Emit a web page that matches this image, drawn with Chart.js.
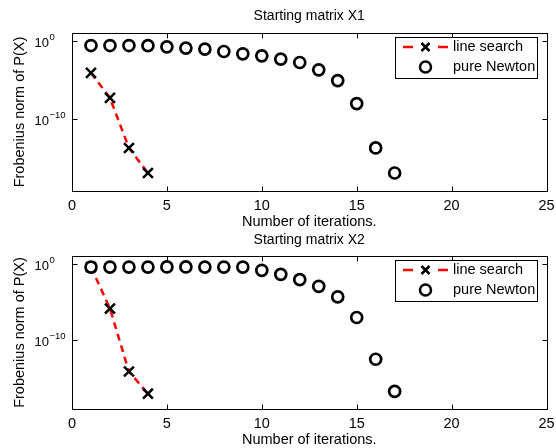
<!DOCTYPE html>
<html>
<head>
<meta charset="utf-8">
<script src="https://cdn.jsdelivr.net/npm/chart.js@4.4.1/dist/chart.umd.min.js"></script>
<style>
  html, body { margin: 0; padding: 0; background: #fff; }
  .panel { position: absolute; left: 0; width: 556px; }
  #top { top: 0; height: 240px; }
  #bottom { top: 224px; height: 224px; }
</style>
</head>
<body>
<div class="panel" id="top"><canvas id="chartX1" width="556" height="240"></canvas></div>
<div class="panel" id="bottom"><canvas id="chartX2" width="556" height="224"></canvas></div>
<script>
// iterations on the x axis
const iterations = [1, 2, 3, 4, 5, 6, 7, 8, 9, 10, 11, 12, 13, 14, 15, 16, 17];
const lineSearchIters = [1, 2, 3, 4];

// Frobenius norm of P(X), starting matrix X1
const lineSearchX1 = [7.9e-5, 5.0e-8, 2.0e-14, 1.26e-17];
const newtonX1 = [0.25, 0.25, 0.25, 0.24, 0.17, 0.117, 0.087, 0.043, 0.022, 0.012,
                  4.6e-3, 1.7e-3, 1.95e-4, 8.3e-6, 9.5e-9, 2.0e-14, 1.26e-17];

// Frobenius norm of P(X), starting matrix X2
const lineSearchX2 = [0.36, 1.35e-6, 7.9e-15, 1.0e-17];
const newtonX2 = [0.36, 0.36, 0.36, 0.36, 0.37, 0.37, 0.36, 0.36, 0.36, 0.135,
                  0.04, 8.1e-3, 1.1e-3, 4.5e-5, 9.1e-8, 3.2e-13, 2.0e-17];

// axis ticks
const xTicks = [0, 5, 10, 15, 20, 25];
const yTicks = [1, 1e-10];
const yTickExponents = ['0', '\u221210'];

const FONT = "'Liberation Sans', Arial, sans-serif";

const toPoints = (xs, ys) => ys.map((y, i) => ({ x: xs[i], y }));

/**
 * Draws a MATLAB-like box, inward ticks, labels, titles and legend
 */
const matlabAxes = {
    id: 'matlabAxes',
    afterDatasetsDraw(chart, args, opts) {
        const ctx = chart.ctx;
        const { left, right, top, bottom } = chart.chartArea;
        const xs = chart.scales.x;
        const ys = chart.scales.y;
        const L = Math.round(left) + 0.5, R = Math.round(right) + 0.5;
        const T = Math.round(top) + 0.5, B = Math.round(bottom) + 0.5;

        ctx.save();
        ctx.strokeStyle = '#000';
        ctx.lineWidth = 1;
        ctx.strokeRect(L, T, R - L, B - T);

        // inward ticks
        ctx.beginPath();
        xTicks.forEach(v => {
            const px = Math.round(xs.getPixelForValue(v)) + 0.5;
            ctx.moveTo(px, B); ctx.lineTo(px, B - 5);
            ctx.moveTo(px, T); ctx.lineTo(px, T + 5);
        });
        yTicks.forEach(v => {
            const py = Math.round(ys.getPixelForValue(v)) + 0.5;
            ctx.moveTo(L, py); ctx.lineTo(L + 5, py);
            ctx.moveTo(R, py); ctx.lineTo(R - 5, py);
        });
        ctx.stroke();

        // legend
        const lx = 395, ly = Math.round(top) + 4, lw = 142, lh = 41;
        ctx.fillStyle = '#fff';
        ctx.fillRect(lx, ly, lw, lh);
        ctx.strokeRect(lx + 0.5, ly + 0.5, lw, lh);

        const row1 = ly + 10, row2 = ly + 30;
        ctx.strokeStyle = '#ff0000';
        ctx.lineWidth = 2.5;
        ctx.beginPath();
        ctx.moveTo(403, row1); ctx.lineTo(413, row1);
        ctx.moveTo(438, row1); ctx.lineTo(448, row1);
        ctx.stroke();

        ctx.strokeStyle = '#000';
        ctx.lineWidth = 2.5;
        const cx = 425.5, d = 4;
        ctx.beginPath();
        ctx.moveTo(cx - d, row1 - d); ctx.lineTo(cx + d, row1 + d);
        ctx.moveTo(cx - d, row1 + d); ctx.lineTo(cx + d, row1 - d);
        ctx.stroke();

        ctx.beginPath();
        ctx.arc(cx, row2, 5.5, 0, Math.PI * 2);
        ctx.fillStyle = '#fff';
        ctx.fill();
        ctx.stroke();

        ctx.fillStyle = '#000';
        ctx.font = '14.5px ' + FONT;
        ctx.textAlign = 'left';
        ctx.textBaseline = 'middle';
        ctx.fillText('line search', 453, row1);
        ctx.fillText('pure Newton', 453, row2);
        ctx.restore();
    },
    afterDraw(chart, args, opts) {
        const ctx = chart.ctx;
        const { left, right, top, bottom } = chart.chartArea;
        const xs = chart.scales.x;
        const ys = chart.scales.y;
        const midX = (left + right) / 2;

        ctx.save();
        ctx.fillStyle = '#000';

        // title
        ctx.font = '14px ' + FONT;
        ctx.textAlign = 'center';
        ctx.textBaseline = 'middle';
        ctx.fillText(opts.title, midX, 16);

        // x tick labels
        ctx.font = '14.5px ' + FONT;
        xTicks.forEach(v => {
            ctx.fillText(String(v), xs.getPixelForValue(v), bottom + 14.5);
        });
        ctx.fillText('Number of iterations.', midX, bottom + 31);

        // y tick labels, 10 with superscript exponent
        ctx.textAlign = 'left';
        ctx.textBaseline = 'alphabetic';
        yTicks.forEach((v, i) => {
            const py = ys.getPixelForValue(v);
            ctx.font = '13px ' + FONT;
            ctx.fillText('10', 34.5, py + 6);
            const w = ctx.measureText('10').width;
            ctx.font = '9.5px ' + FONT;
            ctx.fillText(yTickExponents[i], 34.5 + w + 0.5, py - 1);
        });

        // y axis title
        ctx.font = '14.5px ' + FONT;
        ctx.textAlign = 'center';
        ctx.textBaseline = 'middle';
        ctx.translate(20, (top + bottom) / 2);
        ctx.rotate(-Math.PI / 2);
        ctx.fillText('Frobenius norm of P(X)', 0, 0);
        ctx.restore();
    }
};

function createPanel(id, title, lineSearch, newton, yMin, padding) {
    const canvas = document.getElementById(id);
    return new Chart(canvas.getContext('2d'), {
        type: 'scatter',
        data: {
            datasets: [
                {
                    label: 'line search',
                    data: toPoints(lineSearchIters, lineSearch),
                    showLine: true,
                    borderColor: '#ff0000',
                    borderWidth: 2.5,
                    borderDash: [7, 5],
                    pointStyle: 'crossRot',
                    pointRadius: 7,
                    pointBorderWidth: 2.5,
                    pointBorderColor: '#000',
                    pointBackgroundColor: '#000',
                    order: 2
                },
                {
                    label: 'pure Newton',
                    data: toPoints(iterations, newton),
                    showLine: false,
                    pointStyle: 'circle',
                    pointRadius: 5.5,
                    pointBorderWidth: 2.7,
                    pointBorderColor: '#000',
                    pointBackgroundColor: '#fff',
                    order: 1
                }
            ]
        },
        options: {
            responsive: false,
            animation: false,
            devicePixelRatio: 1,
            layout: { padding },
            scales: {
                x: { type: 'linear', min: 0, max: 25, display: false },
                y: { type: 'logarithmic', min: yMin, max: 10, display: false }
            },
            plugins: {
                legend: { display: false },
                tooltip: { enabled: false },
                title: { display: false },
                matlabAxes: { title }
            }
        },
        plugins: [matlabAxes]
    });
}

createPanel('chartX1', 'Starting matrix X1', lineSearchX1, newtonX1, 6.3e-20,
    { top: 33, left: 72, right: 7, bottom: 49 });
createPanel('chartX2', 'Starting matrix X2', lineSearchX2, newtonX2, 1e-19,
    { top: 32, left: 72, right: 7, bottom: 39 });
</script>
</body>
</html>
